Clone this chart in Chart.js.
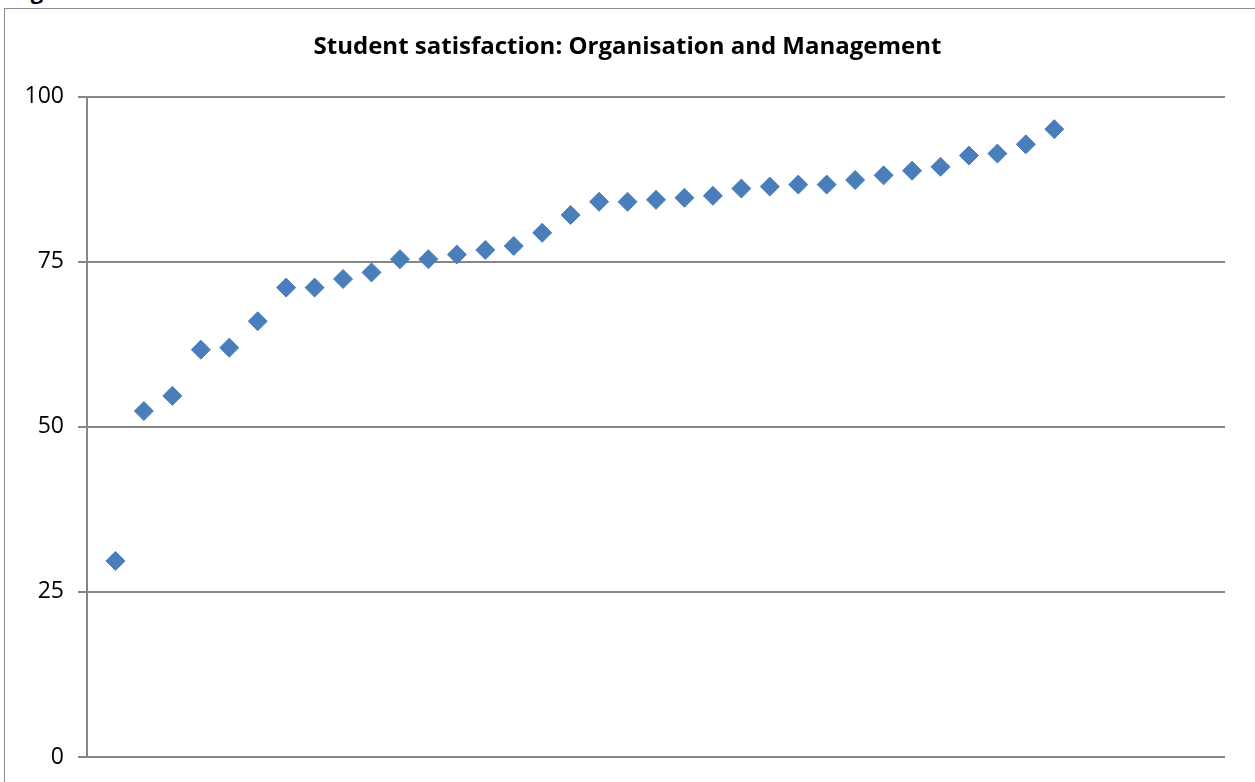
<!DOCTYPE html>
<html>
<head>
<meta charset="utf-8">
<script src="https://cdn.jsdelivr.net/npm/chart.js@4"></script>
<style>
    html, body { margin: 0; padding: 0; background: #fff; overflow: hidden; }
    body { width: 1255px; height: 782px; position: relative; }
    #fig { position: absolute; left: 12px; top: -25px; font: bold 22px "Open Sans", sans-serif; color: #000; }
    #frame { position: absolute; left: 4px; top: 8px; width: 1300px; height: 850px; border: 1.5px solid #8c8c8c; }
    #wrap { position: absolute; left: 0; top: 0; width: 1255px; height: 782px; }
</style>
</head>
<body>
<div id="fig">Figure</div>
<div id="frame"></div>
<div id="wrap"><canvas id="chart"></canvas></div>
<script>
// rank of each subject (x) and its satisfaction score (y)
const ranks = [1, 2, 3, 4, 5, 6, 7, 8, 9, 10, 11, 12, 13, 14, 15, 16, 17,
    18, 19, 20, 21, 22, 23, 24, 25, 26, 27, 28, 29, 30, 31, 32, 33, 34];
const scores = [29.7, 52.4, 54.7, 61.7, 62.0, 66.0, 71.1, 71.1, 72.4, 73.4,
    75.4, 75.4, 76.1, 76.8, 77.4, 79.4, 82.1, 84.1, 84.1, 84.4, 84.7, 85.0,
    86.1, 86.4, 86.7, 86.7, 87.4, 88.1, 88.8, 89.4, 91.1, 91.4, 92.8, 95.1];
const yTicks = [0, 25, 50, 75, 100];

const gridColor = '#868686';

// centre the title on the whole frame, not just the space right of the padding
const centerTitle = {
    id: 'centerTitle',
    afterLayout(chart) {
        if (chart.titleBlock) chart.titleBlock.left = 30;
    }
};

const ctx = document.getElementById('chart').getContext('2d');
new Chart(ctx, {
    type: 'scatter',
    data: {
        datasets: [{
            label: 'Organisation and Management',
            data: ranks.map((r, i) => ({ x: r, y: scores[i] })),
            pointStyle: 'rectRot',
            pointRadius: 9.5,
            pointHoverRadius: 9.5,
            backgroundColor: '#4a7ebb',
            borderColor: '#4a7ebb',
            borderWidth: 1
        }]
    },
    plugins: [centerTitle],
    options: {
        responsive: true,
        maintainAspectRatio: false,
        animation: false,
        layout: { padding: { left: 10, right: 30, top: 24, bottom: 25 } },
        plugins: {
            legend: { display: false },
            tooltip: { enabled: false },
            title: {
                display: true,
                text: 'Student satisfaction: Organisation and Management',
                color: '#000',
                font: { family: 'Open Sans', size: 24, weight: 'bold' },
                padding: { top: 9, bottom: 35 }
            }
        },
        scales: {
            x: {
                type: 'linear',
                min: 0,
                max: 40,
                display: false
            },
            y: {
                min: 0,
                max: 100,
                afterBuildTicks: axis => {
                    axis.ticks = yTicks.map(v => ({ value: v }));
                },
                // fixed width so the plot starts where the original does
                afterFit: axis => {
                    axis.width = 77;
                    axis.paddingBottom = 0;
                },
                ticks: {
                    color: '#000',
                    padding: 14,
                    font: { family: 'Open Sans', size: 23 }
                },
                grid: {
                    color: gridColor,
                    lineWidth: 2,
                    tickLength: 9
                },
                border: { color: gridColor, width: 2 }
            }
        }
    }
});
</script>
</body>
</html>
